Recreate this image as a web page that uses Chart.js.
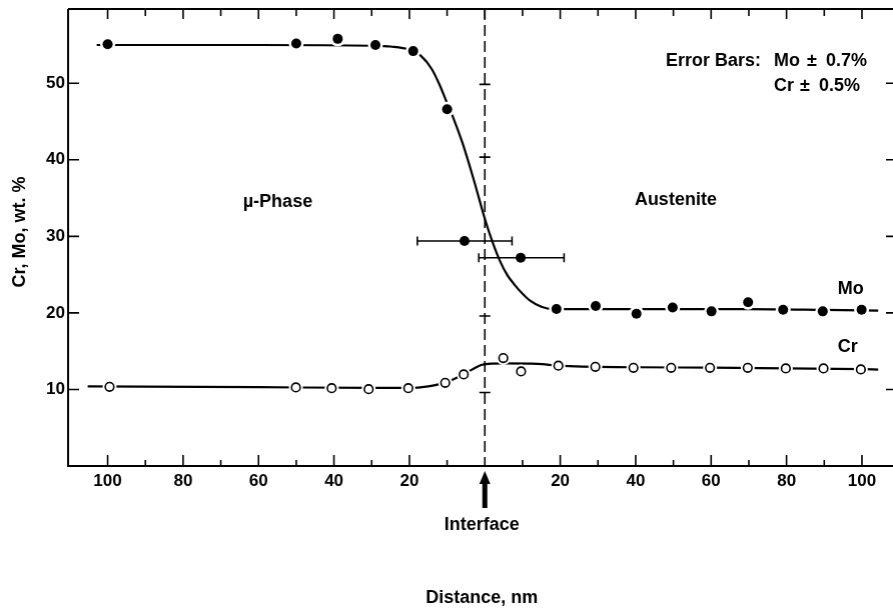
<!DOCTYPE html>
<html>
<head>
<meta charset="utf-8">
<script src="https://cdn.jsdelivr.net/npm/chart.js@4/dist/chart.umd.min.js"></script>
<style>
  html, body { margin: 0; padding: 0; background: #fff; overflow: hidden; }
  #wrap { width: 893px; height: 614px; position: relative; }
</style>
</head>
<body>
<div id="wrap"><canvas id="chart"></canvas></div>
<script>
// measured points (distance in nm, negative = mu-phase side)
const moDist = [-100, -50, -39, -29, -19, -10, -5.4, 9.5, 19, 29.4, 40.2, 49.8, 60.1, 69.8, 79.1, 89.6, 99.9];
const moWt   = [55.1, 55.2, 55.8, 55.0, 54.2, 46.6, 29.4, 27.2, 20.5, 20.9, 19.9, 20.7, 20.2, 21.4, 20.4, 20.2, 20.4];
const crDist = [-99.5, -50.1, -40.6, -30.8, -20.3, -10.5, -5.6, 4.9, 9.6, 19.5, 29.3, 39.4, 49.4, 59.7, 69.7, 79.8, 89.8, 99.7];
const crWt   = [10.34, 10.26, 10.17, 10.04, 10.17, 10.87, 11.96, 14.1, 12.35, 13.1, 12.96, 12.83, 12.83, 12.83, 12.83, 12.75, 12.75, 12.62];

// hand drawn profile curves
const moCurveDist = [-102.9, -60, -30, -25, -20, -17, -14, -12, -10, -8, -6, -3, 0, 2, 4, 6, 8, 10, 12, 15, 18, 30, 50, 70, 90, 104.3];
const moCurveWt   = [55.0, 55.0, 54.9, 54.8, 54.4, 53.6, 51.8, 49.8, 47.4, 45.0, 42.3, 37.5, 32.3, 29.3, 26.8, 24.9, 23.6, 22.5, 21.6, 20.8, 20.5, 20.5, 20.5, 20.5, 20.4, 20.3];
const crCurveDist = [-105.3, -60, -30, -20, -15, -12, -9, -6, -3, -1, 1, 5, 14, 19.5, 40, 60, 80, 100, 104.3];
const crCurveWt   = [10.4, 10.3, 10.2, 10.2, 10.4, 10.7, 11.2, 11.9, 12.7, 13.2, 13.35, 13.4, 13.35, 13.1, 12.9, 12.85, 12.75, 12.65, 12.6];

// horizontal error bars on the two Mo points nearest the interface
const errDist = [-5.4, 9.5];
const errWt   = [29.4, 27.2];
const errLow  = [-17.9, -1.6];
const errHigh = [7.2, 21.0];

// small caps drawn on the interface line
const interfaceCaps = [49.85, 40.35, 19.6, 9.6];

const xTicks = [-100, -80, -60, -40, -20, 20, 40, 60, 80, 100];
const yTicks = [10, 20, 30, 40, 50];

const FONT = '"Liberation Sans", Arial, Helvetica, sans-serif';
const pts = (xs, ys) => xs.map((x, i) => ({ x: x, y: ys[i] }));

const framePlugin = {
  id: 'frame',
  beforeDatasetsDraw(chart) {
    const ctx = chart.ctx, a = chart.chartArea;
    const xs = chart.scales.x, ys = chart.scales.y;
    ctx.save();
    ctx.strokeStyle = '#000';
    ctx.lineWidth = 2;
    ctx.beginPath();
    ctx.moveTo(a.left, a.top); ctx.lineTo(a.right, a.top);
    ctx.moveTo(a.left, a.top); ctx.lineTo(a.left, a.bottom);
    ctx.moveTo(a.left - 1, a.bottom); ctx.lineTo(a.right, a.bottom);
    ctx.stroke();

    // ticks along top and bottom, every 10 nm
    ctx.lineWidth = 1.6;
    ctx.beginPath();
    for (let v = -100; v <= 100; v += 10) {
      const px = xs.getPixelForValue(v);
      const major = v % 20 === 0;
      ctx.moveTo(px, a.top); ctx.lineTo(px, a.top + (major ? 10 : 7));
      if (v !== 0) {
        ctx.moveTo(px, a.bottom); ctx.lineTo(px, a.bottom - (major ? 11 : 6));
      }
    }
    yTicks.forEach(v => {
      const py = ys.getPixelForValue(v);
      ctx.moveTo(a.left, py); ctx.lineTo(a.left + 11, py);
      ctx.moveTo(a.right, py); ctx.lineTo(a.right - 8, py);
    });
    ctx.stroke();

    // x tick labels (distance from the interface on both sides)
    ctx.fillStyle = '#000';
    ctx.font = 'bold 17px ' + FONT;
    ctx.textAlign = 'center';
    ctx.textBaseline = 'middle';
    xTicks.forEach(v => ctx.fillText(String(Math.abs(v)), xs.getPixelForValue(v), a.bottom + 15));

    // interface (dashed)
    const x0 = xs.getPixelForValue(0);
    ctx.lineWidth = 1.6;
    ctx.setLineDash([11, 5]);
    ctx.beginPath();
    ctx.moveTo(x0, a.top); ctx.lineTo(x0, a.bottom);
    ctx.stroke();
    ctx.setLineDash([]);
    ctx.beginPath();
    interfaceCaps.forEach(v => {
      const py = ys.getPixelForValue(v);
      ctx.moveTo(x0 - 5.5, py); ctx.lineTo(x0 + 5.5, py);
    });
    ctx.stroke();
    ctx.restore();
  },
  afterDatasetsDraw(chart) {
    const ctx = chart.ctx;
    const xs = chart.scales.x, ys = chart.scales.y;
    ctx.save();
    ctx.strokeStyle = '#000';
    ctx.fillStyle = '#000';

    // error bars
    ctx.lineWidth = 1.6;
    ctx.beginPath();
    errDist.forEach((d, i) => {
      const py = ys.getPixelForValue(errWt[i]);
      const l = xs.getPixelForValue(errLow[i]), r = xs.getPixelForValue(errHigh[i]);
      ctx.moveTo(l, py); ctx.lineTo(r, py);
      ctx.moveTo(l, py - 4.5); ctx.lineTo(l, py + 4.5);
      ctx.moveTo(r, py - 4.5); ctx.lineTo(r, py + 4.5);
    });
    ctx.stroke();

    const x0 = xs.getPixelForValue(0);
    const px = v => xs.getPixelForValue(v), py = v => ys.getPixelForValue(v);

    ctx.font = 'bold 18px ' + FONT;
    ctx.textBaseline = 'middle';
    ctx.textAlign = 'center';
    ctx.fillText('\u00b5-Phase', px(-54.9), py(34.5));
    ctx.fillText('Austenite', px(50.6), py(34.7));
    ctx.fillText('Mo', px(97), py(23.1));
    ctx.fillText('Cr', px(96.2), py(15.5));

    // error bar legend
    ctx.textAlign = 'right';
    ctx.fillText('Error Bars:', 760, 61);
    ctx.textAlign = 'left';
    ctx.fillText('Mo', 773, 61);
    ctx.fillText('\u00b1', 806, 61);
    ctx.fillText('0.7%', 825, 61);
    ctx.fillText('Cr', 773, 86);
    ctx.fillText('\u00b1', 799, 86);
    ctx.fillText('0.5%', 818, 86);

    // interface arrow
    ctx.beginPath();
    ctx.moveTo(x0, 471);
    ctx.lineTo(x0 + 5.5, 484);
    ctx.lineTo(x0 - 5.5, 484);
    ctx.closePath();
    ctx.fill();
    ctx.fillRect(x0 - 2.5, 482, 5, 26);

    ctx.textAlign = 'center';
    ctx.fillText('Interface', x0 - 3, 525);
    ctx.fillText('Distance, nm', x0 - 3, 598);

    // y axis title
    ctx.translate(20, 232);
    ctx.rotate(-Math.PI / 2);
    ctx.fillText('Cr, Mo, wt. %', 0, 0);
    ctx.restore();
  }
};

const chart = new Chart(document.getElementById('chart'), {
  type: 'scatter',
  data: {
    datasets: [
      { data: pts(moCurveDist, moCurveWt), showLine: true, borderColor: '#000', borderWidth: 2.2,
        pointRadius: 0, cubicInterpolationMode: 'monotone', order: 3 },
      { data: pts(crCurveDist, crCurveWt), showLine: true, borderColor: '#000', borderWidth: 2.2,
        pointRadius: 0, cubicInterpolationMode: 'monotone', order: 3 },
      // white halos so the curves break around the markers
      { data: pts(moDist, moWt), pointRadius: 7.5, backgroundColor: '#fff', borderWidth: 0, order: 2 },
      { data: pts(crDist, crWt), pointRadius: 7, backgroundColor: '#fff', borderWidth: 0, order: 2 },
      { label: 'Mo', data: pts(moDist, moWt), pointRadius: 5, backgroundColor: '#000',
        borderColor: '#000', borderWidth: 0, order: 1 },
      { label: 'Cr', data: pts(crDist, crWt), pointRadius: 4.3, backgroundColor: '#fff',
        borderColor: '#000', borderWidth: 1.6, order: 1 }
    ]
  },
  options: {
    responsive: true,
    maintainAspectRatio: false,
    animation: false,
    layout: { padding: { top: 9, right: 0, left: 0, bottom: 0 } },
    plugins: { legend: { display: false }, tooltip: { enabled: false } },
    scales: {
      x: {
        type: 'linear', min: -110.5, max: 108.5,
        grid: { display: false, drawTicks: false },
        border: { display: false },
        ticks: { display: false },
        afterFit: s => { s.height = 148; s.paddingLeft = 0; s.paddingRight = 0; }
      },
      y: {
        type: 'linear', min: 0, max: 59.7,
        grid: { display: false, drawTicks: false },
        border: { display: false },
        afterFit: s => { s.width = 68; s.paddingTop = 0; s.paddingBottom = 0; },
        afterBuildTicks: s => { s.ticks = yTicks.map(v => ({ value: v })); },
        ticks: {
          color: '#000', padding: 3,
          font: { family: FONT, size: 17, weight: 'bold' }
        }
      }
    }
  },
  plugins: [framePlugin]
});

// if Chart.js still holds back a few px on the right, widen the box so the frame reaches the edge
const gap = 893 - chart.chartArea.right;
if (gap > 0) {
  document.getElementById('wrap').style.width = (893 + gap) + 'px';
  chart.resize();
}
</script>
</body>
</html>
